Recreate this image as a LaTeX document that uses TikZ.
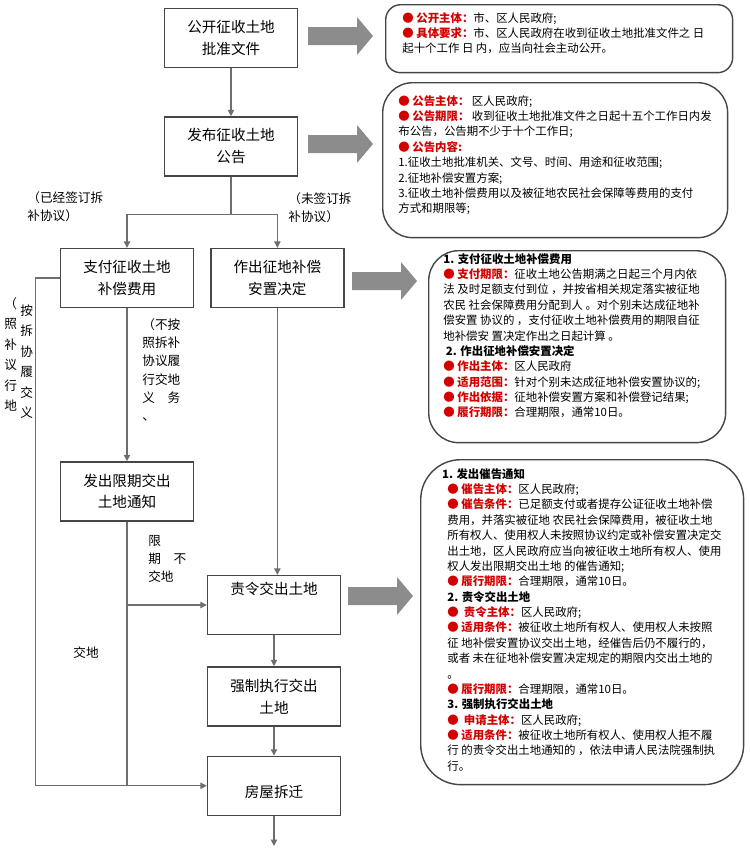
\documentclass[tikz,border=0pt]{standalone}
\usepackage{fontspec}
\setmainfont{Noto Sans CJK SC}
\usetikzlibrary{positioning}
\usetikzlibrary{arrows.meta}

\definecolor{boxline}{RGB}{70,70,70}
\definecolor{conline}{RGB}{110,110,110}
\definecolor{arrowgray}{RGB}{140,140,140}
\definecolor{keyred}{RGB}{210,0,0}

\newcommand{\keyitem}[1]{{\color{keyred}●\ \bfseries #1}}

\begin{document}
\begin{tikzpicture}[x=0.02cm, y=-0.02cm,
    stepbox/.style={draw=boxline, line width=0.8pt, fill=white, minimum width=2.66cm, minimum height=1.18cm, inner sep=0pt, align=center, font=\fontsize{8.3}{12.5}\selectfont},
    infobox/.style={draw=boxline, line width=0.8pt, rounded corners=#1, anchor=north west, inner sep=0pt},
    infotext/.style={anchor=north west, inner sep=0pt, align=left, font=\fontsize{6.5}{8.75}\selectfont},
    sidenote/.style={anchor=north west, inner sep=0pt, align=left, font=\fontsize{7.2}{10.5}\selectfont},
    flow/.style={draw=conline, line width=0.6pt, -{Triangle[length=3.6pt,width=3.6pt]}},
    link/.style={draw=conline, line width=0.6pt},
    bigarrow/.pic={\fill[arrowgray] (0,-9) -- (49,-9) -- (49,-19) -- (65,0) -- (49,19) -- (49,9) -- (0,9) -- cycle;},
  ]
  \useasboundingbox (0,0) rectangle (750,849);

  % main steps
  \node [stepbox] (B1) at (231,38) {公开征收土地\\批准文件};
  \node [stepbox, below=0.96cm of B1] (B2) {发布征收土地\\公告};
  \node [stepbox] (B3) at (127,278) {支付征收土地\\补偿费用};
  \node [stepbox, right=0.32cm of B3] (B4) {作出征地补偿\\安置决定};
  \node [stepbox, below=3.06cm of B3] (B5) {发出限期交出\\土地通知};
  \node [stepbox] (B6) at (274,605) {责令交出土地\\[6pt]\mbox{}};
  \node [stepbox, below=0.62cm of B6] (B7) {强制执行交出\\土地};
  \node [stepbox, below=0.58cm of B7] (B8) {\mbox{}\\[2pt]房屋拆迁};
  \coordinate [below=0.6cm of B8] (END);

  % notes on the connectors
  \node [sidenote] (N1) at (27,191) {（已经签订拆\\补协议）};
  \node [sidenote] (N2) at (288,192) {（未签订拆\\补协议）};
  \node [sidenote, font=\fontsize{7.2}{11.7}\selectfont] (N3) at (4,297) {（\\照\\补\\议\\行\\地};
  \node [sidenote, font=\fontsize{7.2}{11.7}\selectfont] (N4) at (20,304) {按\\拆\\协\\履\\交\\义};
  \node [sidenote, font=\fontsize{7.2}{10.4}\selectfont, below right=0.2cm and 0.3cm of B3.south] (N5) {（不按\\照拆补\\协议履\\行交地\\义　务\\、};
  \node [sidenote, below right=0.26cm and 0.42cm of B5.south] (N6) {限\\期　不\\交地};
  \node [sidenote] (N7) at (73,646) {交地};

  % flow
  \draw [flow] (B1) -- (B2);
  \draw [link] (B2.south) -- ++(0,38) coordinate (J1);
  \draw [flow] (J1) -| (B3.north);
  \draw [flow] (J1) -| (B4.north);
  \draw [flow] (B3.west) -- ++(-24,0) |- (B8.west);
  \draw [flow] (B3) -- (B5);
  \draw [flow] (B4.south) -- (B4.south |- B6.north);
  \draw [link] (B5.south) -- (B5.south |- B8.west);
  \draw [flow] (B5.south |- B6.west) -- (B6.west);
  \draw [flow] (B6) -- (B7);
  \draw [flow] (B7) -- (B8);
  \draw [flow] (B8) -- (END);

  % gray pointers
  \pic (A1) at (308,36) {bigarrow};
  \pic (A2) at (308,144) {bigarrow};
  \pic (A3) at (352,281) {bigarrow};
  \pic (A4) at (348,596) {bigarrow};

  % detail boxes
  \node [infobox=0.3cm, minimum width=6.94cm, minimum height=1.36cm] (I1) at (385,4) {};
  \node [infobox=0.6cm, minimum width=6.9cm, minimum height=3.1cm] (I2) at (382,82) {};
  \node [infobox=0.6cm, minimum width=5.94cm, minimum height=3.84cm] (I3) at (428,250) {};
  \node [infobox=0.8cm, minimum width=6.46cm, minimum height=6.5cm] (I4) at (420,459) {};

  \node [infotext] (T1) at (402,12) {\keyitem{公开主体：}市、区人民政府;\\
    \keyitem{具体要求：}市、区人民政府在收到征收土地批准文件之 日\\
    起十个工作 日 内，应当向社会主动公开。};
  \node [infotext] (T2) at (398,95) {\keyitem{公告主体：} 区人民政府;\\
    \keyitem{公告期限：} 收到征收土地批准文件之日起十五个工作日内发\\
    布公告，公告期不少于十个工作日;\\
    \keyitem{公告内容:}\\
    1.征收土地批准机关、文号、时间、用途和征收范围;\\
    2.征地补偿安置方案;\\
    3.征收土地补偿费用以及被征地农民社会保障等费用的支付\\
    方式和期限等;};
  \node [infotext] (T3) at (443,253) {{\bfseries 1. 支付征收土地补偿费用}\\
    \keyitem{支付期限：}征收土地公告期满之日起三个月内依\\
    法 及时足额支付到位 ，并按省相关规定落实被征地\\
    农民 社会保障费用分配到人 。对个别未达成征地补\\
    偿安置 协议的 ，支付征收土地补偿费用的期限自征\\
    地补偿安 置决定作出之日起计算 。\\
    {\bfseries\ 2. 作出征地补偿安置决定}\\
    \keyitem{作出主体：}区人民政府\\
    \keyitem{适用范围：}针对个别未达成征地补偿安置协议的;\\
    \keyitem{作出依据：}征地补偿安置方案和补偿登记结果;\\
    \keyitem{履行期限：}合理期限，通常10日。};
  \node [infotext] (T4) at (447,468) {\hspace*{-3pt}{\bfseries 1. 发出催告通知}\\
    \keyitem{催告主体：}区人民政府;\\
    \keyitem{催告条件：}已足额支付或者提存公证征收土地补偿\\
    费用，并落实被征地 农民社会保障费用，被征收土地\\
    所有权人、使用权人未按照协议约定或补偿安置决定交\\
    出土地，区人民政府应当向被征收土地所有权人、使用\\
    权人发出限期交出土地 的催告通知;\\
    \keyitem{履行期限：}合理期限，通常10日。\\
    {\bfseries 2. 责令交出土地}\\
    \keyitem{\ 责令主体：}区人民政府;\\
    \keyitem{适用条件：}被征收土地所有权人、使用权人未按照\\
    征 地补偿安置协议交出土地，经催告后仍不履行的，\\
    或者 未在征地补偿安置决定规定的期限内交出土地的\\
    。\\
    \keyitem{履行期限：}合理期限，通常10日。\\
    {\bfseries 3. 强制执行交出土地}\\
    \keyitem{\ 申请主体：}区人民政府;\\
    \keyitem{适用条件：}被征收土地所有权人、使用权人拒不履\\
    行 的责令交出土地通知的 ，依法申请人民法院强制执\\
    行。};

\end{tikzpicture}
\end{document}
